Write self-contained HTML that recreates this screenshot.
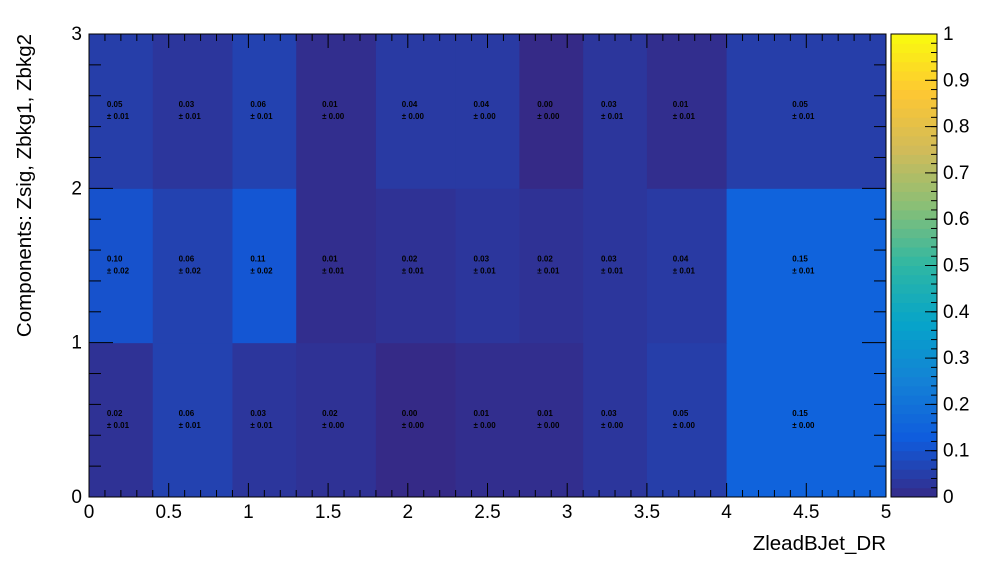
<!DOCTYPE html>
<html><head><meta charset="utf-8"><style>
body{margin:0;background:#fff;width:996px;height:572px;overflow:hidden}
svg text{font-family:"Liberation Sans",sans-serif}
</style></head><body>
<svg id="c" width="996" height="572"></svg>
<script>
const xEdges=[0,0.4,0.9,1.3,1.8,2.3,2.7,3.1,3.5,4,5];
const row0=[0.02,0.06,0.03,0.02,0.00,0.01,0.01,0.03,0.05,0.15];
const row1=[0.10,0.06,0.11,0.01,0.02,0.03,0.02,0.03,0.04,0.15];
const row2=[0.05,0.03,0.06,0.01,0.04,0.04,0.00,0.03,0.01,0.05];
const err0=[0.01,0.01,0.01,0.00,0.00,0.00,0.00,0.00,0.00,0.00];
const err1=[0.02,0.02,0.02,0.01,0.01,0.01,0.01,0.01,0.01,0.01];
const err2=[0.01,0.01,0.01,0.00,0.00,0.00,0.00,0.01,0.01,0.01];
const xTicks=[0,0.5,1,1.5,2,2.5,3,3.5,4,4.5,5];
const yTicks=[0,1,2,3];
const zTicks=[0,0.1,0.2,0.3,0.4,0.5,0.6,0.7,0.8,0.9,1];
const NS='http://www.w3.org/2000/svg';
const svg=document.getElementById('c');
const X0=89,X1=886,Y0=497,Y1=34;
const sx=v=>X0+(X1-X0)*v/5, sy=v=>Y0-(Y0-Y1)*v/3;
const stops=[[53,42,135],[15,92,221],[20,129,214],[6,164,202],[46,183,164],[135,191,119],[209,187,89],[254,200,50],[249,251,14]];
function col(v){v=Math.max(0,Math.min(1,v));const t=v*8,i=Math.min(7,Math.floor(t)),f=t-i;const a=stops[i],b=stops[i+1];return `rgb(${a.map((c,k)=>Math.round(c+(b[k]-c)*f)).join(',')})`;}
function el(t,a,p){const e=document.createElementNS(NS,t);for(const k in a)e.setAttribute(k,a[k]);(p||svg).appendChild(e);return e;}
const rows=[row0,row1,row2],errs=[err0,err1,err2];
rows.forEach((r,j)=>{r.forEach((v,i)=>{
 const x=sx(xEdges[i]),w=sx(xEdges[i+1])-x,y=sy(j+1),h=sy(j)-y;
 const b=el('rect',{x:x,y:y,width:w+0.5,height:h+0.5,fill:col(v)});
 
 
 const cx=x+w/2-14,cy=y+h/2;
 const t1=el('text',{x:cx,y:cy-4,'font-size':8,'font-weight':'bold',fill:'#000'});t1.textContent=v.toFixed(2);
 
 
 const t2=el('text',{x:cx,y:cy+8,'font-size':8,'font-weight':'bold',fill:'#000'});t2.textContent='± '+errs[j][i].toFixed(2);
 
 
});});
el('rect',{x:X0,y:Y1,width:X1-X0,height:Y0-Y1,fill:'none',stroke:'#000','stroke-width':1});
for(let v=0;v<=5.0001;v+=0.1){const x=sx(v);const major=Math.abs(v*2-Math.round(v*2))<1e-6;
 el('line',{x1:x,x2:x,y1:Y0,y2:Y0-(major?14:7),stroke:'#000'});el('line',{x1:x,x2:x,y1:Y1,y2:Y1+(major?14:7),stroke:'#000'});}
xTicks.forEach(v=>{const t=el('text',{x:sx(v),y:518,'font-size':19,'text-anchor':'middle'});t.textContent=String(v);
 });
for(let v=0;v<=3.0001;v+=0.2){const y=sy(v);const major=Math.abs(v-Math.round(v))<1e-6;
 el('line',{x1:X0,x2:X0+(major?24:12),y1:y,y2:y,stroke:'#000'});el('line',{x1:X1,x2:X1-(major?24:12),y1:y,y2:y,stroke:'#000'});}
yTicks.forEach(v=>{const t=el('text',{x:82,y:sy(v)+6,'font-size':19,'text-anchor':'end'});t.textContent=String(v);
 });
const xt=el('text',{x:886,y:550,'font-size':20.5,'text-anchor':'end'});xt.textContent='ZleadBJet_DR';

const yt=el('text',{x:0,y:0,'font-size':20.5,'text-anchor':'end',transform:'translate(31,34) rotate(-90)'});yt.textContent='Components: Zsig, Zbkg1, Zbkg2';

const CX0=891,CX1=937;
for(let k=0;k<50;k++){const y=Y0-(Y0-Y1)*(k+1)/50;el('rect',{x:CX0,y:y,width:CX1-CX0,height:(Y0-Y1)/50+0.5,fill:col((k+0.5)/50)});}
el('rect',{x:CX0,y:Y1,width:CX1-CX0,height:Y0-Y1,fill:'none',stroke:'#000'});
zTicks.forEach(v=>{const y=Y0-(Y0-Y1)*v;el('line',{x1:CX1,x2:CX1-12,y1:y,y2:y,stroke:'#000'});
 const t=el('text',{x:943,y:y+6,'font-size':19});t.textContent=String(v);
 });
for(let v=0.02;v<1;v+=0.02){const y=Y0-(Y0-Y1)*v;el('line',{x1:CX1,x2:CX1-6,y1:y,y2:y,stroke:'#000'});}
</script>
</body></html>
